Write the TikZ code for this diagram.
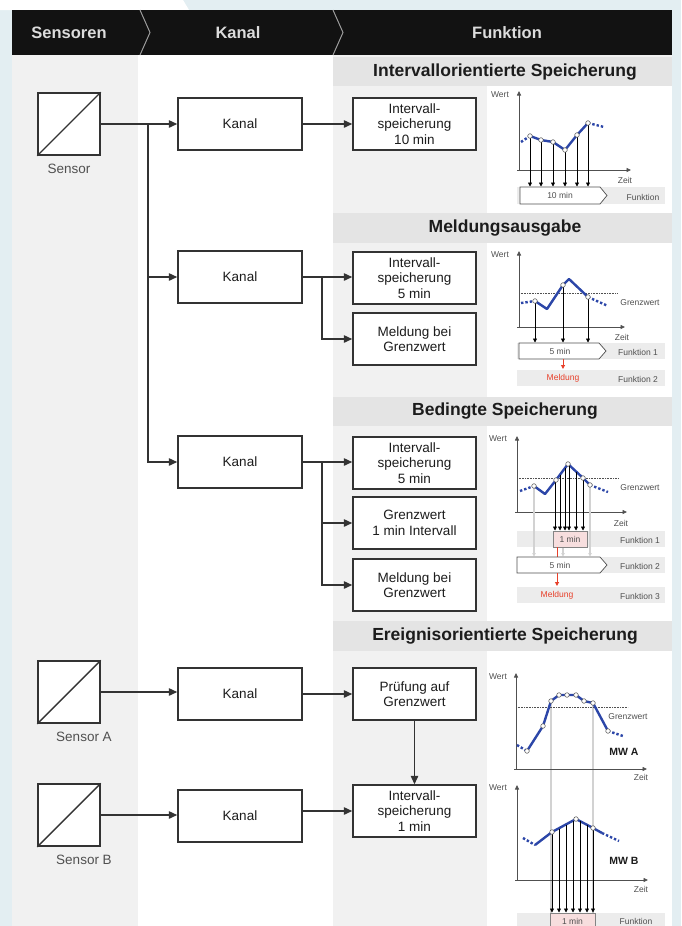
\documentclass[tikz,border=0pt]{standalone}
\usepackage{fontspec}
\setmainfont{Liberation Sans}
\usetikzlibrary{arrows.meta}
\definecolor{bgblue}{HTML}{E3EEF2}
\definecolor{colgrey}{HTML}{F1F1F1}
\definecolor{titlegrey}{HTML}{E4E4E4}
\definecolor{hdr}{HTML}{121212}
\definecolor{hdrtxt}{HTML}{DCDCDC}
\definecolor{boxline}{HTML}{333333}
\definecolor{txt}{HTML}{1C1C1C}
\definecolor{smalltxt}{HTML}{505050}
\definecolor{lineblue}{HTML}{2C46A8}
\definecolor{bandgrey}{HTML}{ECECEC}
\definecolor{pinkbox}{HTML}{F7DEDE}
\definecolor{redtxt}{HTML}{E8402A}
\definecolor{vgrey}{HTML}{D2D2D2}
\begin{document}
\begin{tikzpicture}[x=1pt,y=-1pt,
  kbox/.style={draw=boxline, line width=1.5pt, fill=white, minimum width=124pt, minimum height=52pt, inner sep=0pt,
    font=\fontsize{13.5}{15.5}\selectfont, text=txt, align=center},
  fbox/.style={kbox, minimum width=123pt},
  sbox/.style={draw=boxline, line width=1.5pt, fill=white, minimum size=62pt, inner sep=0pt},
  slabel/.style={font=\fontsize{13.5}{15}\selectfont, text=smalltxt},
  hdrlabel/.style={font=\fontsize{16.5}{19}\selectfont\bfseries, text=hdrtxt},
  titlelabel/.style={font=\fontsize{17.5}{20}\selectfont\bfseries, text=txt},
  conn/.style={draw=boxline, line width=1.4pt},
  arr/.style={conn, -{Triangle[length=8.5pt,width=7.5pt]}},
  small/.style={font=\fontsize{8.5}{9.5}\selectfont, text=smalltxt, inner sep=0pt},
  redsmall/.style={small, text=redtxt},
  smallb/.style={font=\fontsize{10.5}{11}\selectfont\bfseries, text=txt, inner sep=0pt},
  axis/.style={draw=smalltxt, line width=0.8pt, -{Triangle[length=4.5pt,width=4pt]}},
  dline/.style={draw=lineblue, line width=2.4pt, line join=round},
  dotl/.style={draw=lineblue, line width=2.4pt, dotted},
  pt/.style={draw=smalltxt, fill=white, line width=0.5pt},
  darr/.style={draw=black, line width=0.7pt, -{Triangle[length=4pt,width=4pt]}},
  garr/.style={draw=vgrey, line width=1.1pt, -{Triangle[length=3.5pt,width=3.5pt]}},
  rarr/.style={draw=redtxt, line width=1pt, -{Triangle[length=4pt,width=4pt]}},
  glim/.style={draw=smalltxt, line width=0.6pt, densely dotted},
  pent/.style={draw=smalltxt, fill=white, line width=0.7pt},
]
\useasboundingbox (0,0) rectangle (681,926);
% backgrounds
\fill[bgblue] (0,0) rectangle (681,926);
\fill[white] (0,0) -- (183,0) -- (189,10) -- (0,10) -- cycle;
\fill[colgrey] (12,55) rectangle (138,926);
\fill[white] (138,55) rectangle (333,926);
\fill[colgrey] (333,55) rectangle (672,926);
% white chart areas
\fill[white] (487,86) rectangle (672,213);
\fill[white] (487,243) rectangle (672,397);
\fill[white] (487,426) rectangle (672,621);
\fill[white] (487,651) rectangle (672,926);
% title bars
\fill[titlegrey] (333,57) rectangle (672,86);
\fill[titlegrey] (333,213) rectangle (672,243);
\fill[titlegrey] (333,397) rectangle (672,426);
\fill[titlegrey] (333,621) rectangle (672,651);
\node[titlelabel] (t1) at (505,72) {Intervallorientierte Speicherung};
\node[titlelabel] (t2) at (505,228) {Meldungsausgabe};
\node[titlelabel] (t3) at (505,411) {Bedingte Speicherung};
\node[titlelabel] (t4) at (505,636) {Ereignisorientierte Speicherung};
% header
\fill[hdr] (12,10) rectangle (672,55);
\draw[draw=hdrtxt!70!black, line width=1pt] (140,10) -- (150,32.5) -- (140,55);
\draw[draw=hdrtxt!70!black, line width=1pt] (333,10) -- (343,32.5) -- (333,55);
\node[hdrlabel] (h1) at (69,32.5) {Sensoren};
\node[hdrlabel] (h2) at (238,32.5) {Kanal};
\node[hdrlabel] (h3) at (507,32.5) {Funktion};

% sensors
\node[sbox] (s1) at (69,124) {};
\draw[conn] (s1.south west) -- (s1.north east);
\node[slabel] (s1l) at (69,169) {Sensor};
\node[sbox] (sA) at (69,692) {};
\draw[conn] (sA.south west) -- (sA.north east);
\node[slabel] (sAl) at (84,737) {Sensor A};
\node[sbox] (sB) at (69,815) {};
\draw[conn] (sB.south west) -- (sB.north east);
\node[slabel] (sBl) at (84,860) {Sensor B};

% channels
\node[kbox] (k1) at (240,124) {Kanal};
\node[kbox] (k2) at (240,277) {Kanal};
\node[kbox] (k3) at (240,462) {Kanal};
\node[kbox] (kA) at (240,694) {Kanal};
\node[kbox] (kB) at (240,816) {Kanal};

% function boxes
\node[fbox] (f1) at (414.5,124) {Intervall-\\speicherung\\10 min};
\node[fbox] (f2a) at (414.5,278) {Intervall-\\speicherung\\5 min};
\node[fbox] (f2b) at (414.5,339) {Meldung bei\\Grenzwert};
\node[fbox] (f3a) at (414.5,463) {Intervall-\\speicherung\\5 min};
\node[fbox] (f3b) at (414.5,523) {Grenzwert\\1 min Intervall};
\node[fbox] (f3c) at (414.5,585) {Meldung bei\\Grenzwert};
\node[fbox] (fA) at (414.5,694) {Pr\"ufung auf\\Grenzwert};
\node[fbox] (fB) at (414.5,811) {Intervall-\\speicherung\\1 min};

% connectors
\coordinate (j1) at (148,124);
\draw[arr] (s1.east) -- (k1.west);
\draw[arr] (j1) |- (k2.west);
\draw[arr] (j1) |- (k3.west);
\draw[arr] (k1.east) -- (f1.west);
\coordinate (j2) at (322,277);
\draw[arr] (k2.east) -- (f2a.west |- k2.east);
\draw[arr] (j2) |- (f2b.west);
\coordinate (j3) at (322,462);
\draw[arr] (k3.east) -- (f3a.west |- k3.east);
\draw[arr] (j3) |- (f3b.west);
\draw[arr] (j3) |- (f3c.west);
\draw[arr] (sA.east) -- (kA.west |- sA.east);
\draw[arr] (kA.east) -- (fA.west);
\draw[arr] (fA.south) -- (fB.north);
\draw[arr] (sB.east) -- (kB.west |- sB.east);
\draw[arr] (kB.east |- fB.west) -- (fB.west);

% ---------- chart 1 ----------
\fill[bandgrey] (517,187) rectangle (665,204);
\draw[axis] (519,170) -- (519,91);
\draw[axis] (517,170) -- (631,170);
\node[small] at (500,95) {Wert};
\node[small] at (625,180) {Zeit};
\draw[dotl] (521,142) -- (530,136);
\draw[dline] (530,136) -- (541,140) -- (553,142) -- (565,150) -- (577,135) -- (588,123);
\draw[dotl] (588,123) -- (604,127);
\foreach \px/\py in {530/136,541/140,553/142,565/150,577/135,588/123}{
  \draw[darr] (\px,\py) -- (\px,186.5);
  \draw[pt] (\px,\py) circle (2.3pt);
}
\draw[pent] (520,187) -- (600,187) -- (607,195.5) -- (600,204) -- (520,204) -- cycle;
\node[small] at (560,195.5) {10 min};
\node[small] at (643,197) {Funktion};

% ---------- chart 2 ----------
\fill[bandgrey] (517,343) rectangle (665,359);
\fill[bandgrey] (517,370) rectangle (665,386);
\draw[axis] (519,327) -- (519,251);
\draw[axis] (517,327) -- (625,327);
\node[small] at (500,255) {Wert};
\node[small] at (622,337) {Zeit};
\draw[glim] (519,293) -- (617,293);
\node[small] at (640,303) {Grenzwert};
\draw[dotl] (521,303) -- (535,301);
\draw[dline] (535,301) -- (547,309) -- (563,285) -- (569,279) -- (588,297);
\draw[dotl] (588,297) -- (608,306);
\foreach \px/\py in {535/301,563/285,588/297}{
  \draw[darr] (\px,\py) -- (\px,342.5);
  \draw[pt] (\px,\py) circle (2.3pt);
}
\draw[pent] (519,343) -- (599,343) -- (606,351) -- (599,359) -- (519,359) -- cycle;
\node[small] at (560,351) {5 min};
\node[small] at (638,352) {Funktion 1};
\draw[rarr] (563,359) -- (563,369);
\node[redsmall] at (563,378.5) {Meldung};
\node[small] at (638,379) {Funktion 2};

% ---------- chart 3 ----------
\fill[bandgrey] (517,531) rectangle (665,547);
\fill[bandgrey] (517,557) rectangle (665,573);
\fill[bandgrey] (517,587) rectangle (665,603);
\draw[axis] (517,512) -- (517,436);
\draw[axis] (515,512) -- (627,512);
\node[small] at (498,439) {Wert};
\node[small] at (621,523) {Zeit};
\draw[glim] (517,478) -- (619,478);
\node[small] at (640,488) {Grenzwert};
\draw[garr] (534,486) -- (534,556.5);
\draw[garr] (590,485) -- (590,556.5);
\draw[garr] (563,547) -- (563,556.5);
\draw[dotl] (520,491) -- (534,486);
\draw[dline] (534,486) -- (545,494) -- (556,480) -- (568,464) -- (583,478) -- (590,485);
\draw[dotl] (590,485) -- (608,492);
\foreach \px/\py in {555/481,560/474.5,565/468,569/465,576/471.5,583/478.3}{
  \draw[darr] (\px,\py) -- (\px,530.5);
}
\foreach \px/\py in {534/486,556/480,568/464,583/478,590/485}{
  \draw[pt] (\px,\py) circle (2.3pt);
}
\draw[draw=smalltxt!70, fill=pinkbox, line width=0.6pt] (553,531) rectangle (587,547);
\node[small] at (570,539) {1 min};
\node[small] at (640,540) {Funktion 1};
\draw[draw=redtxt, line width=1pt] (557,547) -- (557,557);
\draw[pent] (517,557) -- (600,557) -- (607,565) -- (600,573) -- (517,573) -- cycle;
\node[small] at (560,565) {5 min};
\node[small] at (640,566) {Funktion 2};
\draw[rarr] (557,573) -- (557,586);
\node[redsmall] at (557,595) {Meldung};
\node[small] at (640,596) {Funktion 3};

% ---------- chart 4 & 5 ----------
\fill[bandgrey] (517,913) rectangle (665,930);
\draw[draw=vgrey, line width=1.6pt] (551,701) -- (551,913);
\draw[draw=vgrey, line width=1.6pt] (593,703) -- (593,913);
% chart 4
\draw[axis] (516,769) -- (516,673);
\draw[axis] (514,769) -- (647,769);
\node[small] at (498,677) {Wert};
\node[small] at (641,777) {Zeit};
\draw[glim] (516,707) -- (628,707);
\node[small] at (628,716.5) {Grenzwert};
\draw[dotl] (517,745) -- (527,751);
\draw[dline] (527,751) -- (543,726) -- (551,701) -- (559,695) -- (567,695) -- (576,695) -- (584,701) -- (593,703) -- (608,731);
\draw[dotl] (608,731) -- (623,736);
\foreach \px/\py in {527/751,543/726,551/701,559/695,567/695,576/695,584/701,593/703,608/731}{
  \draw[pt] (\px,\py) circle (2.3pt);
}
\node[smallb] at (624,752) {MW A};
% chart 5
\draw[axis] (517,880) -- (517,785);
\draw[axis] (515,880) -- (648,880);
\node[small] at (498,788) {Wert};
\node[small] at (641,889) {Zeit};
\draw[dotl] (523,838) -- (535,845);
\draw[dline] (535,845) -- (552,832) -- (576,819) -- (593,828) -- (602,833);
\draw[dotl] (602,833) -- (619,841);
\foreach \px/\py in {552/832,559/828.5,566/825,573/820.5,580/821,587/825,593/828}{
  \draw[darr] (\px,\py) -- (\px,912.5);
}
\foreach \px/\py in {552/832,576/819,593/828}{
  \draw[pt] (\px,\py) circle (2.3pt);
}
\node[smallb] at (624,861) {MW B};
\draw[draw=smalltxt!70, fill=pinkbox, line width=0.6pt] (550,913) rectangle (595,932);
\node[small] at (572.5,921) {1 min};
\node[small] at (636,921) {Funktion};
\end{tikzpicture}
\end{document}
